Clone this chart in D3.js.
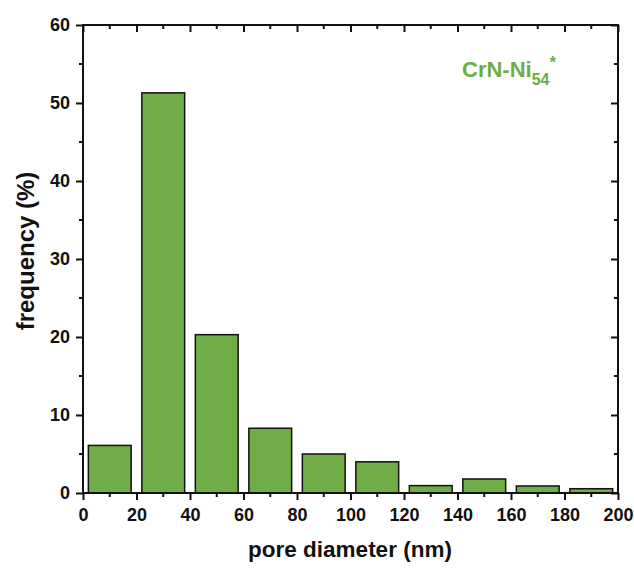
<!DOCTYPE html>
<html><head><meta charset="utf-8">
<script src="https://cdn.jsdelivr.net/npm/d3@7/dist/d3.min.js"></script>
<style>body{margin:0;background:#fff;} text{font-family:"Liberation Sans",Arial,sans-serif;font-weight:bold;}</style>
</head><body>
<svg id="c" width="634" height="569"></svg>
<script>
const binStart = [0, 20, 40, 60, 80, 100, 120, 140, 160, 180];
const binEnd   = [20, 40, 60, 80, 100, 120, 140, 160, 180, 200];
const frequency = [6.1, 51.3, 20.3, 8.3, 5.0, 4.0, 0.95, 1.8, 0.9, 0.55];
const xTicks = [0, 20, 40, 60, 80, 100, 120, 140, 160, 180, 200];
const yTicks = [0, 10, 20, 30, 40, 50, 60];
const xTitle = "pore diameter (nm)";
const yTitle = "frequency (%)";

const svg = d3.select("#c");
const L = 83, R = 618, T = 25, B = 493;
const x = d3.scaleLinear().domain([0, 200]).range([L, R]);
const y = d3.scaleLinear().domain([0, 60]).range([B, T]);
const green = "#70AD47";

// bars
svg.append("g").selectAll("rect").data(frequency).join("rect")
  .attr("x", (d, i) => x(binStart[i] + 2))
  .attr("width", (d, i) => x(binEnd[i] - 2) - x(binStart[i] + 2))
  .attr("y", d => y(d))
  .attr("height", d => y(0) - y(d))
  .attr("fill", green).attr("stroke", "#111").attr("stroke-width", 1.5);

const minorX = d3.range(10, 200, 20);
const minorY = d3.range(5, 60, 10);

// bottom axis
const gb = svg.append("g").attr("transform", `translate(0,${B})`)
  .call(d3.axisBottom(x).tickValues(xTicks).tickSize(7).tickPadding(8));
gb.selectAll(".tick text").attr("font-size", 18).attr("fill", "#111").style("font-family", "Liberation Sans").style("font-weight", "bold");
gb.select(".domain").remove();
gb.selectAll(".tick line").attr("stroke", "#111").attr("stroke-width", 2);
gb.selectAll(".mt").data(minorX).join("line").attr("x1", d => x(d)).attr("x2", d => x(d)).attr("y1", 0).attr("y2", 4).attr("stroke", "#111").attr("stroke-width", 2);

// top axis (ticks pointing inward)
const gt = svg.append("g").attr("transform", `translate(0,${T})`)
  .call(d3.axisTop(x).tickValues(xTicks).tickSize(-7).tickFormat(""));
gt.select(".domain").remove();
gt.selectAll(".tick line").attr("stroke", "#111").attr("stroke-width", 2);
gt.selectAll(".mt").data(minorX).join("line").attr("x1", d => x(d)).attr("x2", d => x(d)).attr("y1", 0).attr("y2", 4).attr("stroke", "#111").attr("stroke-width", 2);

// left axis
const gl = svg.append("g").attr("transform", `translate(${L},0)`)
  .call(d3.axisLeft(y).tickValues(yTicks).tickSize(7).tickPadding(6));
gl.select(".domain").remove();
gl.selectAll(".tick text").attr("font-size", 18).attr("fill", "#111").style("font-family", "Liberation Sans").style("font-weight", "bold");
gl.selectAll(".tick line").attr("stroke", "#111").attr("stroke-width", 2);
gl.selectAll(".mt").data(minorY).join("line").attr("y1", d => y(d)).attr("y2", d => y(d)).attr("x1", 0).attr("x2", -4).attr("stroke", "#111").attr("stroke-width", 2);

// right axis (ticks inward)
const gr = svg.append("g").attr("transform", `translate(${R},0)`)
  .call(d3.axisRight(y).tickValues(yTicks).tickSize(-7).tickFormat(""));
gr.select(".domain").remove();
gr.selectAll(".tick line").attr("stroke", "#111").attr("stroke-width", 2);
gr.selectAll(".mt").data(minorY).join("line").attr("y1", d => y(d)).attr("y2", d => y(d)).attr("x1", 0).attr("x2", -4).attr("stroke", "#111").attr("stroke-width", 2);

// frame
svg.append("rect").attr("x", L).attr("y", T).attr("width", R - L).attr("height", B - T)
  .attr("fill", "none").attr("stroke", "#111").attr("stroke-width", 2);

// titles
svg.append("text").attr("x", 350).attr("y", 557).attr("text-anchor", "middle")
  .attr("font-size", 22.5).attr("fill", "#111").text(xTitle);
svg.append("text").attr("transform", `translate(34,251) rotate(-90)`).attr("text-anchor", "middle")
  .attr("font-size", 24).attr("fill", "#111").text(yTitle);

// label
const lab = svg.append("text").attr("x", 462).attr("y", 77).attr("font-size", 22).attr("fill", "#6CAE44");
lab.append("tspan").text("CrN-Ni");
lab.append("tspan").attr("font-size", 16).attr("dy", 8).text("54");
lab.append("tspan").attr("font-size", 17).attr("dy", -17).text("*");
</script>
</body></html>
